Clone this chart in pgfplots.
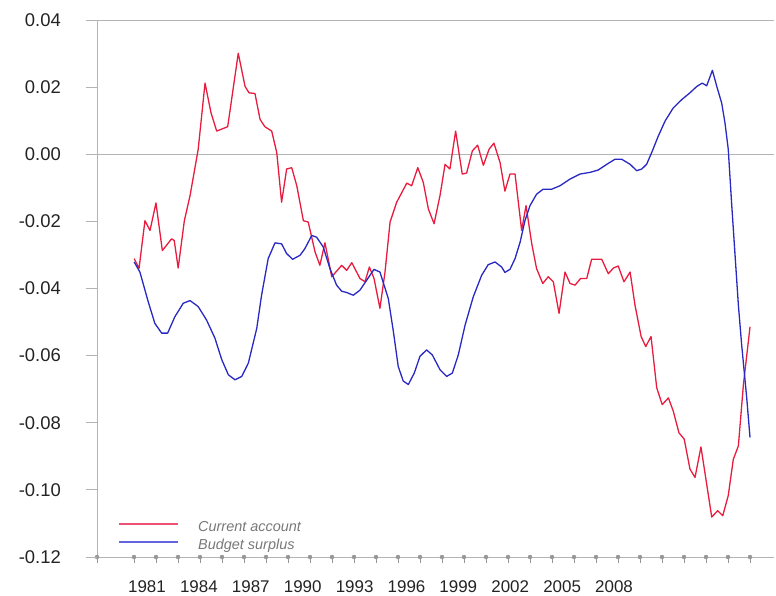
\documentclass[border=0pt]{standalone}
\usepackage{pgfplots}
\pgfplotsset{compat=1.18}
\usepackage{fontspec}
\setmainfont{Liberation Sans}
\definecolor{cared}{RGB}{232,28,62}
\definecolor{bsblue}{RGB}{40,40,195}
\definecolor{legred}{RGB}{238,80,115}
\definecolor{legblue}{RGB}{100,100,220}
\definecolor{axgray}{RGB}{180,180,180}
\definecolor{tickgray}{RGB}{150,150,150}
\definecolor{txt}{RGB}{35,35,35}
\definecolor{legtxt}{RGB}{120,120,120}
\pgfplotsset{base/.style={
  at={(0,0)}, anchor=south west,
  scale only axis, width=677bp, height=537bp,
  xmin=1979.32, xmax=2010.09, ymin=-0.12, ymax=0.04,
  tick align=outside,
}}
\pgfplotstableread{
x y
1981.01 -0.0311
1981.23 -0.0340
1981.50 -0.0198
1981.73 -0.0227
1982.00 -0.0145
1982.29 -0.0287
1982.71 -0.0252
1982.83 -0.0257
1983.01 -0.0339
1983.29 -0.0198
1983.55 -0.0123
1983.92 0.0015
1984.23 0.0212
1984.50 0.0124
1984.76 0.0069
1985.26 0.0082
1985.74 0.0301
1986.05 0.0202
1986.23 0.0183
1986.50 0.0181
1986.73 0.0104
1986.95 0.0082
1987.26 0.0069
1987.49 0.0005
1987.71 -0.0143
1987.94 -0.0044
1988.17 -0.0040
1988.40 -0.0094
1988.70 -0.0198
1988.92 -0.0202
1989.23 -0.0291
1989.45 -0.0331
1989.68 -0.0264
1989.99 -0.0365
1990.44 -0.0331
1990.67 -0.0346
1990.90 -0.0323
1991.27 -0.0370
1991.50 -0.0380
1991.70 -0.0336
1991.91 -0.0370
1992.18 -0.0459
1992.41 -0.0351
1992.64 -0.0202
1992.94 -0.0143
1993.40 -0.0086
1993.62 -0.0094
1993.90 -0.0040
1994.15 -0.0084
1994.38 -0.0163
1994.64 -0.0207
1994.91 -0.0123
1995.14 -0.0030
1995.36 -0.0044
1995.62 0.0069
1995.92 -0.0059
1996.12 -0.0056
1996.38 0.0010
1996.62 0.0027
1996.88 -0.0033
1997.14 0.0015
1997.36 0.0033
1997.64 -0.0025
1997.86 -0.0110
1998.09 -0.0059
1998.32 -0.0059
1998.62 -0.0227
1998.82 -0.0153
1999.08 -0.0267
1999.30 -0.0341
1999.58 -0.0385
1999.83 -0.0365
2000.06 -0.0380
2000.32 -0.0474
2000.59 -0.0351
2000.82 -0.0385
2001.05 -0.0390
2001.30 -0.0370
2001.58 -0.0370
2001.80 -0.0313
2002.26 -0.0313
2002.56 -0.0356
2002.79 -0.0339
2003.01 -0.0333
2003.27 -0.0380
2003.55 -0.0351
2003.77 -0.0449
2004.05 -0.0543
2004.26 -0.0573
2004.50 -0.0543
2004.76 -0.0696
2005.01 -0.0746
2005.29 -0.0726
2005.51 -0.0765
2005.77 -0.0830
2006.01 -0.0849
2006.27 -0.0938
2006.50 -0.0963
2006.77 -0.0872
2007.03 -0.0983
2007.26 -0.1081
2007.53 -0.1062
2007.76 -0.1077
2008.01 -0.1017
2008.24 -0.0909
2008.47 -0.0869
2008.70 -0.0686
2009.00 -0.0514
}\currentaccount
\pgfplotstableread{
x y
1981.01 -0.0321
1981.27 -0.0351
1981.65 -0.0440
1981.95 -0.0504
1982.26 -0.0533
1982.53 -0.0533
1982.86 -0.0484
1983.24 -0.0444
1983.55 -0.0436
1983.92 -0.0454
1984.30 -0.0494
1984.68 -0.0548
1984.99 -0.0612
1985.29 -0.0657
1985.59 -0.0672
1985.90 -0.0662
1986.20 -0.0622
1986.58 -0.0519
1986.80 -0.0420
1987.10 -0.0311
1987.41 -0.0264
1987.71 -0.0267
1987.94 -0.0296
1988.21 -0.0313
1988.55 -0.0301
1988.77 -0.0281
1989.08 -0.0242
1989.30 -0.0247
1989.60 -0.0276
1989.91 -0.0341
1990.21 -0.0390
1990.44 -0.0408
1990.67 -0.0412
1990.97 -0.0420
1991.27 -0.0405
1991.58 -0.0375
1991.91 -0.0343
1992.18 -0.0351
1992.56 -0.0430
1992.79 -0.0528
1993.01 -0.0632
1993.24 -0.0676
1993.47 -0.0686
1993.74 -0.0652
1994.00 -0.0602
1994.30 -0.0583
1994.56 -0.0598
1994.91 -0.0642
1995.21 -0.0662
1995.47 -0.0652
1995.74 -0.0598
1996.05 -0.0509
1996.42 -0.0425
1996.80 -0.0361
1997.10 -0.0329
1997.41 -0.0321
1997.71 -0.0336
1997.86 -0.0352
1998.09 -0.0343
1998.32 -0.0311
1998.55 -0.0262
1998.77 -0.0198
1999.00 -0.0153
1999.30 -0.0119
1999.60 -0.0104
1999.99 -0.0104
2000.36 -0.0094
2000.82 -0.0074
2001.27 -0.0059
2001.73 -0.0054
2002.10 -0.0047
2002.49 -0.0030
2002.86 -0.0015
2003.17 -0.0015
2003.55 -0.0030
2003.85 -0.0049
2004.08 -0.0044
2004.30 -0.0030
2004.53 0.0005
2004.83 0.0054
2005.14 0.0099
2005.51 0.0138
2005.90 0.0163
2006.27 0.0183
2006.58 0.0202
2006.83 0.0212
2007.03 0.0204
2007.29 0.0250
2007.49 0.0202
2007.71 0.0153
2007.86 0.0094
2008.01 0.0015
2008.17 -0.0153
2008.32 -0.0301
2008.47 -0.0449
2008.62 -0.0568
2008.85 -0.0726
2009.00 -0.0844
}\budgetsurplus
\pgfplotstableread{
x y
1979.32 -0.12
1981 -0.12
1982 -0.12
1983 -0.12
1984 -0.12
1985 -0.12
1986 -0.12
1987 -0.12
1988 -0.12
1989 -0.12
1990 -0.12
1991 -0.12
1992 -0.12
1993 -0.12
1994 -0.12
1995 -0.12
1996 -0.12
1997 -0.12
1998 -0.12
1999 -0.12
2000 -0.12
2001 -0.12
2002 -0.12
2003 -0.12
2004 -0.12
2005 -0.12
2006 -0.12
2007 -0.12
2008 -0.12
2009 -0.12
}\yearticks
\begin{document}
\begin{tikzpicture}
% axis A: axis lines, data, legend, yearly tick marks
\begin{axis}[
  base,
  clip=false,
  axis x line*=bottom, axis y line*=left,
  axis line style={axgray, line width=0.8bp, -},
  xtick=\empty, ytick=\empty,
  legend style={draw=none, fill=none, at={(rel axis cs:0.031,0.037)}, anchor=west,
    inner sep=0pt, outer sep=0pt, row sep=5bp,
    nodes={inner sep=0pt, text height=10bp, text depth=3bp, anchor=west},
    font=\fontsize{14.5}{16}\selectfont\itshape, text=legtxt,
    /tikz/every odd column/.append style={column sep=19bp}},
  legend cell align=left,
]
\addplot[axgray, line width=0.8bp, forget plot] coordinates {(1979.32,0) (2010.09,0)};
\addplot[axgray, line width=0.8bp, forget plot] coordinates {(1979.32,0.04) (2010.09,0.04)};
\addplot[tickgray, only marks, mark=none, forget plot,
  error bars/.cd, y dir=minus, y fixed=0.0018, error mark=none,
  error bar style={tickgray, line width=0.9bp}] table[x=x,y=y] {\yearticks};
\addplot[cared, line width=1.3bp, line join=round,
  legend image code/.code={\draw[legred, line width=2.2bp] (0bp,4bp) -- (59bp,4bp);}]
  table[x=x,y=y] {\currentaccount};
\addlegendentry{Current account}
\addplot[bsblue, line width=1.3bp, line join=round,
  legend image code/.code={\draw[legblue, line width=2.2bp] (0bp,4bp) -- (59bp,4bp);}]
  table[x=x,y=y] {\budgetsurplus};
\addlegendentry{Budget surplus}
\end{axis}
% axis B: y ticks and labels, x labels without marks
\begin{axis}[
  base,
  axis x line*=bottom, axis y line*=left,
  axis line style={draw=none},
  major tick length=11bp,
  ytick={-0.12,-0.1,-0.08,-0.06,-0.04,-0.02,0,0.02,0.04},
  yticklabels={-0.12,-0.10,-0.08,-0.06,-0.04,-0.02,0.00,0.02,0.04},
  ytick style={axgray, line width=0.8bp},
  yticklabel style={font=\fontsize{18.5}{20}\selectfont, text=txt, inner sep=0pt, anchor=east, xshift=-25bp},
  xtick={1981.59,1983.95,1986.31,1988.67,1991.03,1993.39,1995.74,1998.10,2000.46,2002.82},
  xticklabels={1981,1984,1987,1990,1993,1996,1999,2002,2005,2008},
  xtick style={draw=none},
  xticklabel style={font=\fontsize{17}{19}\selectfont, text=txt, inner sep=0pt, anchor=north, yshift=-12bp},
]
\end{axis}
\pgfresetboundingbox
\path[use as bounding box] (-97bp,-39bp) rectangle (679bp,557bp);
\end{tikzpicture}
\end{document}
